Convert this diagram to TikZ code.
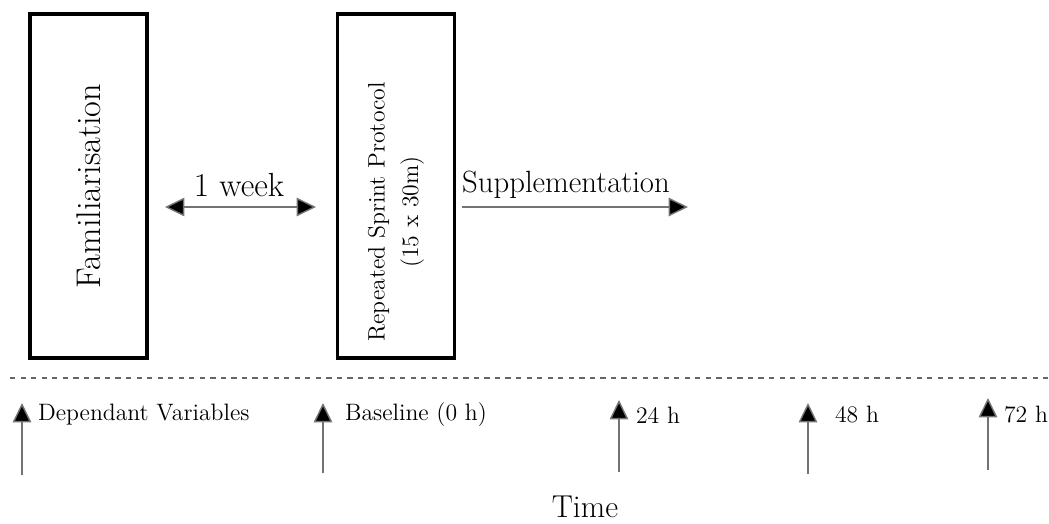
\documentclass[tikz,border=0pt]{standalone}
\usetikzlibrary{arrows.meta}
\tikzset{
  phasebox/.style={draw=black, line width=1.8pt, minimum width=6.88cm, minimum height=2.34cm, rotate=90},
  tip/.tip={Triangle[width=10.5pt,length=11pt,fill=black]},
  flowarrow/.style={draw=black!55, line width=0.8pt, -tip},
  dblarrow/.style={draw=black!55, line width=0.8pt, tip-tip},
  toplabel/.style={font=\fontsize{17.5}{20}\selectfont},
  steplabel/.style={font=\fontsize{13.5}{16}\selectfont, anchor=west, inner sep=1pt},
}
\begin{document}
\begin{tikzpicture}[x=0.02cm, y=-0.02cm]
    \useasboundingbox (0,0) rectangle (1049,524);

    % the two sessions
    \node[phasebox, font=\fontsize{19.5}{22}\selectfont] (fam) at (88.5,186) {Familiarisation};
    \node[phasebox] (rsp) at (396,186) {};
    \node[rotate=90, align=center, font=\fontsize{13.5}{19}\selectfont] (rsptext) at (396,212) {Repeated Sprint Protocol\\(15 x 30m)};

    % between and after
    \coordinate (weekstart) at (165,207); \coordinate (weekend) at (316,207);
    \draw[dblarrow] (weekstart) -- (weekend);
    \node[font=\fontsize{19}{22}\selectfont] (week) at (239,185) {1 week};

    \coordinate (suppstart) at (462,207); \coordinate (suppend) at (688,207);
    \draw[flowarrow] (suppstart) -- (suppend);
    \node[toplabel, anchor=west] (supp) at (456,185) {Supplementation};

    % time line
    \coordinate (lineleft) at (10,378); \coordinate (lineright) at (1049,378);
    \draw[black!60, dashed, line width=0.6pt] (lineleft) -- (lineright);

    \foreach \i/\x/\ytop/\ybot/\lx/\txt in {1/22/403/475/36/Dependant Variables, 2/323/403/473/343/Baseline (0 h), 3/619/400/472/634/24 h, 4/808/403/474/833/48 h, 5/988/398/470/1002/72 h}{
        \coordinate (up\i b) at (\x,\ybot); \coordinate (up\i t) at (\x,\ytop);
        \draw[flowarrow] (up\i b) -- (up\i t);
        \node[steplabel] (lbl\i) at (\lx,415) {\txt};
    }

    \node[font=\fontsize{18}{21}\selectfont, anchor=base, inner sep=0pt] (time) at (585,517) {Time};
\end{tikzpicture}
\end{document}
